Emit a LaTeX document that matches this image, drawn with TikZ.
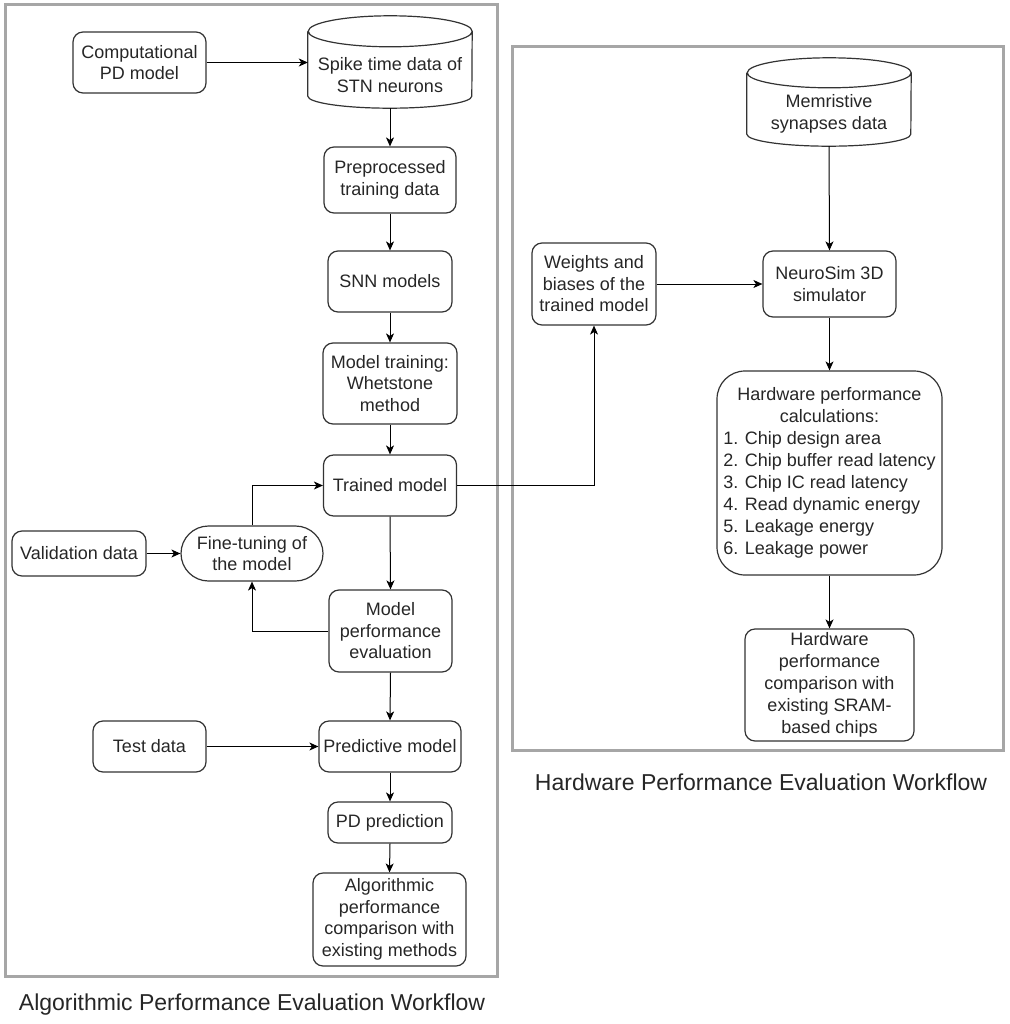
\documentclass[tikz,border=0pt]{standalone}
\usepackage{fontspec}
\setmainfont{Liberation Sans}
\usetikzlibrary{arrows.meta,calc}
\newcommand\drawcyl[4]{% node, rx, top ry, bottom ry
  \draw[cylline] (#1.north west) -- ($(#1.south west)+(0,#4)$)
    arc[start angle=180,end angle=360,x radius=#2,y radius=#4]
    -- (#1.north east)
    arc[start angle=0,end angle=360,x radius=#2,y radius=#3];}
\begin{document}
\begin{tikzpicture}[x=1pt,y=1pt,
  txt/.style={align=center, text=black!85, font=\fontsize{18}{21.5}\selectfont},
  box/.style={txt, draw=black!80, line width=1.2pt, rounded corners=10pt, inner sep=2pt},
  cyl/.style={inner sep=0pt},
  cyltxt/.style={txt, inner sep=0pt},
  cylline/.style={draw=black!80, line width=1.2pt},
  wh/.style 2 args={minimum width=#1pt, minimum height=#2pt},
  arr/.style={-{Stealth[length=9pt,width=8pt,inset=2.5pt]}, line width=1pt, black},
  frame/.style={draw=black!35, line width=3pt},
  captext/.style={font=\fontsize{23}{27}\selectfont, text=black!85}]
\useasboundingbox (0,0) rectangle (1009,-1024);

% frames
\draw[frame] (5,-5) rectangle (497,-976);
\draw[frame] (512,-47) rectangle (1003,-750);
\node[captext] (capA) at (252,-1005) {Algorithmic Performance Evaluation Workflow};
\node[captext] (capH) at (761,-782) {Hardware Performance Evaluation Workflow};

% left column
\node[box, wh={133}{61}] (comp) at (139.5,-62.5) {Computational\\PD model};
\node[cyl, wh={164}{76.5}] (spike) at (390,-69.75) {};
\drawcyl{spike}{82}{15.5}{12}
\node[cyltxt] (spiketxt) at (390,-75) {Spike time data of\\STN neurons};
\node[box, wh={132}{66}] (pre) at (390,-180) {Preprocessed\\training data};
\node[box, wh={124}{61}] (snn) at (390,-281.5) {SNN models};
\node[box, wh={134}{81}] (train) at (390,-383.5) {Model training:\\Whetstone\\method};
\node[box, wh={133}{61}] (trained) at (390,-485.5) {Trained model};
\node[box, wh={142}{55}, rounded corners=27.5pt] (fine) at (252,-553.5) {Fine-tuning of\\the model};
\node[box, wh={134}{45}] (val) at (79,-553.5) {Validation data};
\node[box, wh={123}{82}] (perf) at (390.5,-631) {Model\\performance\\evaluation};
\node[box, wh={142}{51}] (pred) at (390,-746.5) {Predictive model};
\node[box, wh={113}{51}] (test) at (149.5,-746.5) {Test data};
\node[box, wh={124}{41}] (pdp) at (390,-822.5) {PD prediction};
\node[box, wh={153}{93}] (algo) at (389.5,-919.5) {Algorithmic\\performance\\comparison with\\existing methods};

% right column
\node[cyl, wh={164}{73}] (mem) at (829,-109.5) {};
\drawcyl{mem}{82}{15}{12}
\node[cyltxt] (memtxt) at (829,-114) {Memristive\\synapses data};
\node[box, wh={124}{82}] (wts) at (594,-284) {Weights and\\biases of the\\trained model};
\node[box, wh={133}{66}] (neuro) at (829.5,-284) {NeuroSim 3D\\simulator};
\node[box, wh={225}{204}, rounded corners=28pt, font=\fontsize{18}{22}\selectfont] (hwc) at (829.5,-473)
  {\begin{tabular}{@{}l@{}}
   \multicolumn{1}{@{}c@{}}{Hardware performance}\\
   \multicolumn{1}{@{}c@{}}{calculations:}\\
   1. Chip design area\\
   2. Chip buffer read latency\\
   3. Chip IC read latency\\
   4. Read dynamic energy\\
   5. Leakage energy\\
   6. Leakage power
   \end{tabular}};
\node[box, wh={169}{112}, font=\fontsize{18}{22}\selectfont] (hwcomp) at (829.5,-685) {Hardware\\performance\\comparison with\\existing SRAM-\\based chips};

% connectors
\draw[arr] (comp.east) -- (comp.east -| spike.west);
\draw[arr] (spike.south) -- (pre.north);
\draw[arr] (pre.south) -- (snn.north);
\draw[arr] (snn.south) -- (train.north);
\draw[arr] (train.south) -- (trained.north);
\draw[arr] (trained.south) -- (perf.north);
\draw[arr] (val.east) -- (fine.west);
\draw[arr] (fine.north) |- (trained.west);
\draw[arr] (perf.west) -| (fine.south);
\draw[arr] (perf.south) -- (pred.north);
\draw[arr] (test.east) -- (pred.west);
\draw[arr] (pred.south) -- (pdp.north);
\draw[arr] (pdp.south) -- (algo.north);
\draw[arr] (trained.east) -| (wts.south);
\draw[arr] (wts.east) -- (neuro.west);
\draw[arr] (mem.south) -- (neuro.north);
\draw[arr] (neuro.south) -- (hwc.north);
\draw[arr] (hwc.south) -- (hwcomp.north);
\end{tikzpicture}
\end{document}
